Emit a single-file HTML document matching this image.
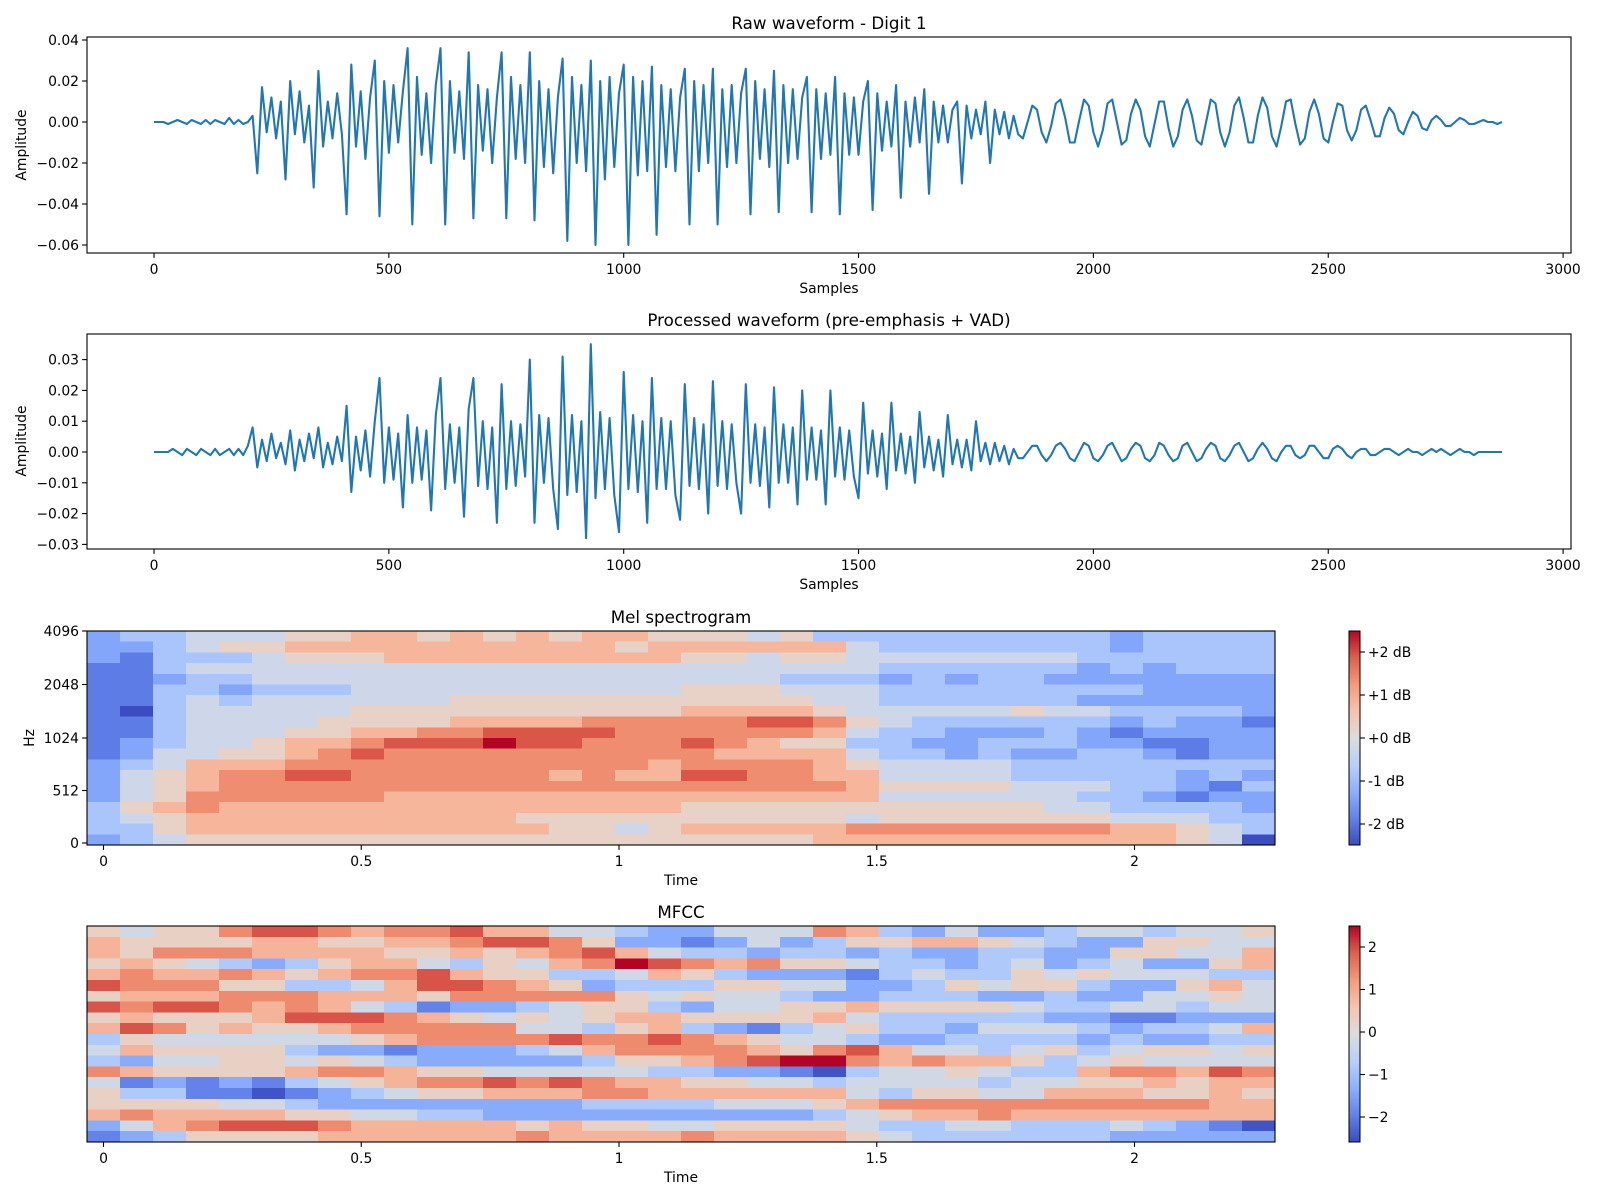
<!DOCTYPE html>
<html><head><meta charset="utf-8"><title>Digit 1 audio features</title>
<style>
html,body{margin:0;padding:0;background:#fff;}
svg{display:block;font-family:"DejaVu Sans","Liberation Sans",sans-serif;}
.tk{font-size:13.9px;fill:#000;}
.ttl{font-size:16.7px;fill:#000;}
</style></head>
<body>
<svg id="fig" width="1600" height="1200" viewBox="0 0 1600 1200" xmlns="http://www.w3.org/2000/svg">
<rect width="1600" height="1200" fill="#fff"/>
<text class="ttl" x="829" y="29" text-anchor="middle">Raw waveform - Digit 1</text>
<text class="ttl" x="829" y="326" text-anchor="middle">Processed waveform (pre-emphasis + VAD)</text>
<text class="ttl" x="681" y="623" text-anchor="middle">Mel spectrogram</text>
<text class="ttl" x="681" y="918" text-anchor="middle">MFCC</text>
<text class="tk" x="829" y="293" text-anchor="middle">Samples</text>
<text class="tk" x="829" y="589" text-anchor="middle">Samples</text>
<text class="tk" x="681" y="885" text-anchor="middle">Time</text>
<text class="tk" x="681" y="1182" text-anchor="middle">Time</text>
<text class="tk" transform="translate(26,145) rotate(-90)" text-anchor="middle">Amplitude</text>
<text class="tk" transform="translate(26,441) rotate(-90)" text-anchor="middle">Amplitude</text>
<text class="tk" transform="translate(34,738) rotate(-90)" text-anchor="middle">Hz</text>
<g id="layer"></g>
</svg>
<script>
// ---------- data ----------
const rawStep = 10;
const rawWave = [
0,0,0,-1,0,1,0,-1,1,0,-1,1,-1,1,0,-1,2,-1,1,-1,0,
3,-25,17,-5,12,-8,10,-28,20,-6,
15,-10,8,-32,25,-12,10,-8,14,-6,
-45,28,-12,15,-18,12,30,
-46,20,-15,18,-10,15,36,
-50,22,-16,14,-20,18,
36,-50,20,-15,15,-18,34,
-47,18,-14,16,-20,12,34,
-47,22,-18,18,-20,34,
-48,20,-22,16,-25,12,31,
-58,22,-20,18,-24,30,
-60,20,-28,22,-22,14,28,
-60,22,-26,20,-24,27,
-55,18,-22,16,-24,12,26,
-50,20,-24,18,-20,26,
-50,16,-22,18,-20,14,26,
-45,20,-18,16,-22,25,
-44,18,-20,16,-18,12,22,
-44,16,-18,14,-16,22,
-45,14,-16,12,-16,10,20,
-43,14,-14,10,-12,18,
-37,10,-12,12,-10,16,
-35,10,-10,8,-10,6,10,
-30,8,-8,6,-6,10,
-20,6,-6,5,-8,
3,-6,-8,0,8,6,-5,-10,-2,9,
11,2,-10,-10,1,11,8,-5,-12,-4,
9,11,0,-11,-9,4,11,6,-7,-12,
-1,10,10,-3,-12,-7,6,11,3,-9,
-11,0,11,9,-5,-12,-5,8,12,2,
-10,-10,3,12,7,-7,-12,-2,10,11,
-1,-11,-8,5,11,4,-8,-10,0,9,
8,-4,-9,-4,6,8,1,-7,-7,2,
7,4,-4,-6,0,5,3,-3,-4,1,
3,1,-2,-2,0,2,1,-1,-1,0,
1,0,0,-1,0];
const procWave = [
0,0,0,0,1,0,-1,1,0,-1,1,0,-1,1,-1,0,1,-1,1,-1,2,
8,-5,4,-3,6,-2,3,-4,7,-6,
4,-3,6,-2,8,-5,3,-4,5,-3,
15,-13,5,-6,7,-8,10,
24,-10,8,-9,6,-18,12,
-10,8,-9,7,-19,12,
24,-12,9,-10,8,-21,14,
24,-11,10,-12,8,-23,22,
-12,10,-11,9,-8,30,
-23,12,-10,11,-12,-25,31,
-14,12,-13,10,-28,35,
-15,13,-12,11,-14,-26,26,
-12,12,-13,10,-23,24,
-12,11,-12,10,-14,-22,22,
-11,11,-12,9,-20,23,
-11,10,-12,9,-10,-20,22,
-10,9,-11,8,-18,21,
-10,9,-10,8,-17,20,-9,
8,-9,7,-17,20,-8,
8,-9,7,-8,-15,16,-7,
7,-8,6,-12,16,-6,
6,-7,5,-10,13,-5,
5,-6,4,-8,12,-4,4,
-5,4,-6,10,-3,3,
-4,3,-3,2,-4,
1,-2,-2,0,2,2,-1,-3,-1,2,
3,1,-2,-3,0,3,2,-2,-3,-1,
2,3,0,-3,-2,1,3,2,-2,-3,
-1,3,2,-1,-3,-2,2,3,0,-3,
-2,1,3,2,-2,-3,-1,2,3,0,
-3,-2,1,3,1,-2,-3,0,2,2,
-1,-2,-1,2,2,0,-2,-2,1,2,
1,-1,-2,0,1,1,-1,-1,0,1,
1,0,-1,0,1,0,0,-1,0,1,
0,1,0,-1,0,1,0,0,-1,0,
0,0,0,0,0];
const sampleTicks = [0,500,1000,1500,2000,2500,3000];
const rawYTicks = [0.04,0.02,0.00,-0.02,-0.04,-0.06];
const rawYLabels = ["0.04","0.02","0.00","\u22120.02","\u22120.04","\u22120.06"];
const procYTicks = [0.03,0.02,0.01,0.00,-0.01,-0.02,-0.03];
const procYLabels = ["0.03","0.02","0.01","0.00","\u22120.01","\u22120.02","\u22120.03"];
const timeTicks = [0,0.5,1,1.5,2];
const timeLabels = ["0","0.5","1","1.5","2"];
const hzTicks = [0,512,1024,2048,4096];
const melCbTicks = [2,1,0,-1,-2];
const melCbLabels = ["+2 dB","+1 dB","+0 dB","-1 dB","-2 dB"];
const mfccCbTicks = [2,1,0,-1,-2];
const mfccCbLabels = ["2","1","0","\u22121","\u22122"];
// digits 0..9 map to -2.5..+2.5 ; rows top -> bottom
const melRows = [
"233444556656565665554533333333323333",
"223455666666666656666664333333323333",
"213334555666666666554554444444333333",
"113444444444444444444444333333232333",
"112334444444444444444333232332222222",
"113323334444444444555444333333332222",
"113434444445555555555544333333222222",
"103444445555555555666654444454433332",
"113444455556666777778875433333323221",
"113444556677888877777764332223212222",
"123445667888988777876553322333221122",
"124455678777777777766664332322332122",
"234666777777777776777765444433333333",
"245677887777776766887766444433333232",
"245677777777777777777776555544433213",
"245777777666666666666666444444332122",
"356766666666666666555555555554433332",
"345666666666655555555554555555544433",
"335666666666665545666667777777766543",
"234555555555555555555566666666666540"];
const mfccRows = [
"545578876778664432244476324223443445",
"655556655667887522124235566543225544",
"657776666556567864332332322332255446",
"565432356643546798767554332342342256",
"676676567786553346532221343354544433",
"877755334688765233355442235455322564",
"566677766657777754544322333223224454",
"878876764312234553244556555543344344",
"565556888765454566555564333332211222",
"687565567777744356321345332444323346",
"354444445677778778765443223333232233",
"465555322122234677776578644345345545",
"324455454322222355678997676653454444",
"765555677655444443322103445433677687",
"412121345677878766554434444344556566",
"533110123455666776666664355446665565",
"555544322222222333344456777777777766",
"676666554433222222222234566766666666",
"246788876666656554455554334433343210",
"123555566666676666766665433333322222"];

// ---------- helpers ----------
const NS = 'http://www.w3.org/2000/svg';
const layer = document.getElementById('layer');
function mk(tag, parent, attrs){
  const e = document.createElementNS(NS, tag);
  for (const k in attrs) e.setAttribute(k, attrs[k]);
  parent.appendChild(e);
  return e;
}
const CW = [[59,76,192],[98,130,234],[141,176,254],[184,208,249],[221,220,220],[245,196,173],[244,154,123],[222,96,77],[180,4,38]];
function coolwarm(t){
  t = Math.max(0, Math.min(1, t));
  const f = t * 8, i = Math.min(7, Math.floor(f)), u = f - i;
  const a = CW[i], b = CW[i+1];
  return 'rgb(' + [0,1,2].map(k => Math.round(a[k] + (b[k]-a[k])*u)).join(',') + ')';
}
function digitVal(ch){ return -2.5 + (+ch) * 5 / 9; }

function frame(box, name){
  const r = mk('rect', layer, {x:box.l, y:box.t, width:box.r-box.l, height:box.b-box.t, fill:'none', stroke:'#000', 'stroke-width':1.1});
  
  
}
function xTicks(box, vals, labels, xf, prefix){
  vals.forEach((v, i) => {
    const x = xf(v);
    const ln = mk('line', layer, {x1:x, x2:x, y1:box.b, y2:box.b+4.9, stroke:'#000', 'stroke-width':1.1});
    
    
    const tx = mk('text', layer, {x:x, y:box.b+21, 'text-anchor':'middle', class:'tk'});
    tx.textContent = labels[i];
    
    
  });
}
function yTicks(box, vals, labels, yf, prefix, right){
  vals.forEach((v, i) => {
    const y = yf(v);
    const x0 = right ? box.r : box.l;
    const ln = mk('line', layer, {x1:x0, x2: right ? x0+4.9 : x0-4.9, y1:y, y2:y, stroke:'#000', 'stroke-width':1.1});
    
    
    const tx = mk('text', layer, {x: right ? x0+8 : x0-8, y:y+5, 'text-anchor': right ? 'start' : 'end', class:'tk'});
    tx.textContent = labels[i];
    
    
  });
}

// ---------- waveforms ----------
const sx = s => 154 + s * 0.4697;
const boxRaw = {l:87, r:1571, t:37, b:253};
const yRaw = v => 122 - v * 2050;
const boxProc = {l:87, r:1571, t:334, b:549};
const yProc = v => 452 - v * 3080;

function wave(data, yf, name){
  const pts = data.map((d, i) => sx(i * rawStep).toFixed(1) + ',' + yf(d / 1000).toFixed(1)).join(' ');
  const pl = mk('polyline', layer, {points:pts, fill:'none', stroke:'#1f77b4', 'stroke-width':2.1, 'stroke-linejoin':'round'});
  
  
}
wave(rawWave, yRaw, 'raw-waveform-line');
frame(boxRaw, 'raw-waveform-axes');
xTicks(boxRaw, sampleTicks, sampleTicks.map(String), sx, 'raw');
yTicks(boxRaw, rawYTicks, rawYLabels, yRaw, 'raw', false);

wave(procWave, yProc, 'processed-waveform-line');
frame(boxProc, 'processed-waveform-axes');
xTicks(boxProc, sampleTicks, sampleTicks.map(String), sx, 'processed');
yTicks(boxProc, procYTicks, procYLabels, yProc, 'processed', false);

// ---------- heatmaps ----------
const colW = 33;
const tx = t => 103.5 + t * 515.5;
function heat(rows, box, vmin, vmax, name){
  const nr = rows.length, rh = (box.b - box.t) / nr;
  rows.forEach((row, r) => {
    for (let c = 0; c < row.length; c++){
      const v = digitVal(row[c]);
      const x = box.l + c * colW;
      const w = Math.min(colW + 0.6, box.r - x);
      const cell = mk('rect', layer, {x:x, y:(box.t + r*rh).toFixed(2), width:w.toFixed(2), height:(rh+0.6).toFixed(2), fill:coolwarm((v - vmin)/(vmax - vmin)), 'shape-rendering':'crispEdges'});
      
      
    }
  });
}
function colorbar(x, box, vmin, vmax, name, ticks, labels, yf){
  const gid = name + '-grad';
  const defs = mk('defs', layer, {});
  const lg = mk('linearGradient', defs, {id:gid, x1:0, y1:1, x2:0, y2:0});
  CW.forEach((c, i) => mk('stop', lg, {offset: (i/8), 'stop-color': 'rgb(' + c.join(',') + ')'}));
  const cb = {l:x, r:x+11, t:box.t, b:box.b};
  const rr = mk('rect', layer, {x:cb.l, y:cb.t, width:11, height:cb.b-cb.t, fill:'url(#' + gid + ')', stroke:'#000', 'stroke-width':1});
  
  
  yTicks(cb, ticks, labels, yf, name, true);
}

const boxMel = {l:87, r:1275, t:631, b:845};
heat(melRows, boxMel, -2.5, 2.5, 'mel');
frame(boxMel, 'mel-spectrogram-axes');
xTicks(boxMel, timeTicks, timeLabels, tx, 'mel');
const hzY = f => f <= 1024 ? 843 - f / 1024 * 105 : 738 - Math.log2(f / 1024) * 53.5;
yTicks(boxMel, hzTicks, hzTicks.map(String), hzY, 'mel', false);
colorbar(1349, boxMel, -2.5, 2.5, 'mel-colorbar', melCbTicks, melCbLabels, v => 738 - v * 43);

const boxMfcc = {l:87, r:1275, t:926, b:1142};
heat(mfccRows, boxMfcc, -2.6, 2.5, 'mfcc');
frame(boxMfcc, 'mfcc-axes');
xTicks(boxMfcc, timeTicks, timeLabels, tx, 'mfcc');
colorbar(1349, boxMfcc, -2.6, 2.5, 'mfcc-colorbar', mfccCbTicks, mfccCbLabels, v => 1032 - v * 42.5);
</script>
</body></html>
